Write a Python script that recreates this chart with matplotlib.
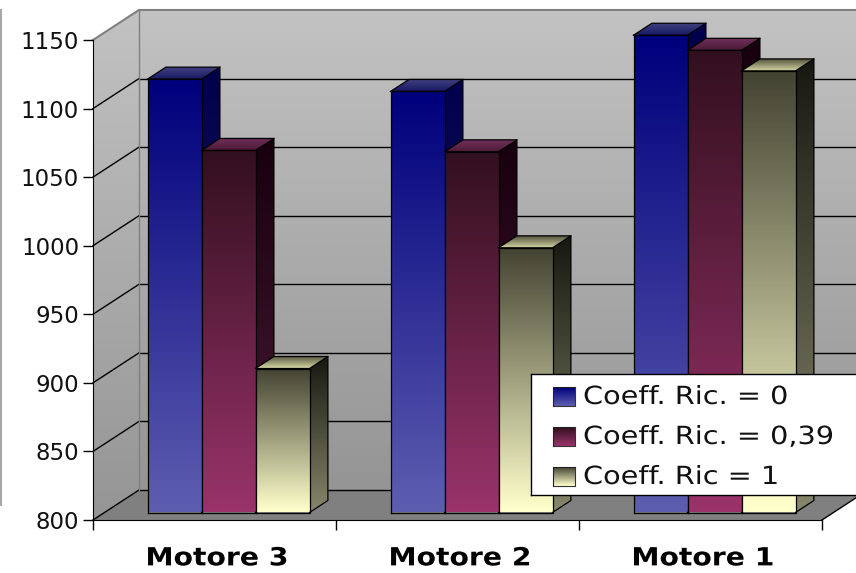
import matplotlib
matplotlib.use("Agg")
import matplotlib.pyplot as plt
import numpy as np
from matplotlib.colors import LinearSegmentedColormap
from matplotlib.lines import Line2D
from matplotlib.patches import Polygon
from matplotlib.patheffects import AbstractPathEffect
from matplotlib.transforms import Affine2D

categories = ["Motore 3", "Motore 2", "Motore 1"]
series_names = ["Coeff. Ric. = 0", "Coeff. Ric. = 0,39", "Coeff. Ric = 1"]
coeff_0 = [1116, 1107, 1148]
coeff_039 = [1064, 1063, 1137]
coeff_1 = [905, 993, 1122]
y_ticks = [800, 850, 900, 950, 1000, 1050, 1100, 1150]

W, H = 856, 573
DEPTH_X = 46 / 243
DEPTH_Y = 30 / (480 / 350)
BAR_W = 54 / 243
GAP = 43 / 243
Z0, Z1 = 0.25, 0.65

front_cols = [("#00007c", "#5d5db0"), ("#33101f", "#99336a"), ("#444433", "#ffffcc")]
side_cols = [("#00004c", "#2a2a68"), ("#18000f", "#4a1a36"), ("#181812", "#86866a")]
top_cols = [("#40407f", "#1a1a66"), ("#70305a", "#4d1a38"), ("#56563f", "#d4d4a4")]

plt.rcParams["font.family"] = ["DejaVu Sans"]


class StretchX(AbstractPathEffect):
    # the original text is widely spaced, widen the glyphs to get the same run length
    def __init__(self, k, center=False):
        super().__init__()
        self.k = k
        self.center = center

    def draw_path(self, renderer, gc, tpath, affine, rgbFace=None):
        mid = 0
        if self.center and len(tpath.vertices):
            mid = (tpath.vertices[:, 0].min() + tpath.vertices[:, 0].max()) / 2
        stretch = Affine2D().translate(-mid, 0).scale(self.k, 1).translate(mid, 0)
        renderer.draw_path(gc, tpath, stretch + affine, rgbFace)


fig = plt.figure(figsize=(W / 100, H / 100), dpi=100, facecolor="white")
ax = fig.add_axes([93 / W, (H - 520) / H, 729 / W, 480 / H])
ax.patch.set_visible(False)


def gradient(pts, cols, z):
    # vertical gradient clipped to a polygon, first colour on top
    pts = np.array(pts)
    cmap = LinearSegmentedColormap.from_list("g", cols)
    extent = [pts[:, 0].min(), pts[:, 0].max(), pts[:, 1].min(), pts[:, 1].max()]
    im = ax.imshow(np.linspace(0, 1, 64).reshape(-1, 1), cmap=cmap, extent=extent,
                   aspect="auto", origin="upper", zorder=z, interpolation="bilinear")
    im.set_clip_box(fig.bbox)
    im.set_clip_path(Polygon(pts, transform=ax.transData))


def bar3d(x, v, cols, side, top, z):
    x0 = x + Z0 * DEPTH_X
    x1 = x0 + BAR_W
    b = 800 + Z0 * DEPTH_Y
    t = v + Z0 * DEPTH_Y
    dx = (Z1 - Z0) * DEPTH_X
    dy = (Z1 - Z0) * DEPTH_Y
    gradient([(x1, b), (x1, t), (x1 + dx, t + dy), (x1 + dx, b + dy)], side, z)
    gradient([(x0, t), (x1, t), (x1 + dx, t + dy), (x0 + dx, t + dy)], top, z)
    gradient([(x0, b), (x1, b), (x1, t), (x0, t)], cols, z)
    outline = [[(x1, b), (x1 + dx, b + dy), (x1 + dx, t + dy), (x0 + dx, t + dy), (x0, t)],
               [(x0, t), (x1, t), (x1 + dx, t + dy)],
               [(x0, b), (x1, b), (x1, t), (x0, t), (x0, b)]]
    for line in outline:
        line = np.array(line)
        ax.plot(line[:, 0], line[:, 1], color="black", lw=0.9, zorder=z + 0.1, clip_on=False)


# walls and floor
top_y = 1150 + DEPTH_Y
gradient([(DEPTH_X, 800 + DEPTH_Y), (3 + DEPTH_X, 800 + DEPTH_Y), (3 + DEPTH_X, top_y), (DEPTH_X, top_y)],
         ("#c2c2c2", "#959595"), 0.1)
gradient([(0, 800), (DEPTH_X, 800 + DEPTH_Y), (DEPTH_X, top_y), (0, 1150)], ("#c2c2c2", "#959595"), 0.2)
ax.add_patch(Polygon([(0, 800), (3, 800), (3 + DEPTH_X, 800 + DEPTH_Y), (DEPTH_X, 800 + DEPTH_Y)],
                     facecolor="#808080", edgecolor="none", zorder=0.3, clip_on=False))

for v in y_ticks:
    if v == 1150:
        continue
    ax.plot([0, DEPTH_X], [v, v + DEPTH_Y], color="black", lw=1, zorder=0.5, clip_on=False)
    ax.plot([DEPTH_X, 3 + DEPTH_X], [v + DEPTH_Y, v + DEPTH_Y], color="black", lw=1, zorder=0.5, clip_on=False)
ax.plot([0, DEPTH_X, 3 + DEPTH_X], [1150, top_y, top_y], color="#808080", lw=1.5, zorder=0.5, clip_on=False)
ax.plot([DEPTH_X, DEPTH_X], [800 + DEPTH_Y, top_y], color="#808080", lw=1, zorder=0.5, clip_on=False)
ax.plot([3, 3 + DEPTH_X], [800, 800 + DEPTH_Y], color="black", lw=1, zorder=0.5, clip_on=False)

# bars
for i, values in enumerate([coeff_0, coeff_039, coeff_1]):
    for j, v in enumerate(values):
        bar3d(j + GAP + i * BAR_W, v, front_cols[i], side_cols[i], top_cols[i], 3 + j * 3 + i)

ax.set_xlim(0, 3)
ax.set_ylim(800, 1150)
for s in ["top", "right"]:
    ax.spines[s].set_visible(False)
ax.set_yticks(y_ticks)
ax.tick_params(axis="y", length=7, width=1, labelsize=16.5, pad=3, labelcolor="#111111")
ax.set_xticks([0, 1, 2, 3])
ax.set_xticklabels([])
ax.tick_params(axis="x", which="major", length=7, width=1)
ax.set_xticks([0.51, 1.51, 2.51], minor=True)
labels = ax.set_xticklabels(categories, minor=True, fontweight="bold", fontsize=18)
for lab in labels:
    lab.set_path_effects([StretchX(1.13, center=True)])
ax.tick_params(axis="x", which="minor", length=0, pad=19)

# stray frame line on the far left
fig.add_artist(Line2D([0.5 / W, 0.5 / W], [1 - 10 / H, 1 - 505 / H], color="#a8a8a8", lw=1.5))

# legend box
leg = fig.add_axes([531 / W, (H - 495) / H, (W + 10 - 531) / W, 121 / H])
leg.set_xticks([])
leg.set_yticks([])
for s in leg.spines.values():
    s.set_linewidth(1)
leg.set_zorder(20)
swatch_y = [387, 427, 467]
for name, cols, y in zip(series_names, front_cols, swatch_y):
    cmap = LinearSegmentedColormap.from_list("s", cols)
    leg.imshow(np.linspace(0, 1, 32).reshape(-1, 1), cmap=cmap, extent=[553, 575, y + 19, y],
               aspect="auto", origin="upper")
    leg.plot([553, 553, 575], [y + 19, y, y], color="#222222", lw=0.8)
    leg.plot([553, 575, 575], [y + 19, y + 19, y], color="#333333", lw=0.8)
    txt = leg.text(583, y + 10, name, fontsize=18, va="center", ha="left", color="#111111")
    txt.set_path_effects([StretchX(1.15)])
leg.set_xlim(531, W + 10)
leg.set_ylim(495, 374)

fig.savefig("out.png", dpi=100)
